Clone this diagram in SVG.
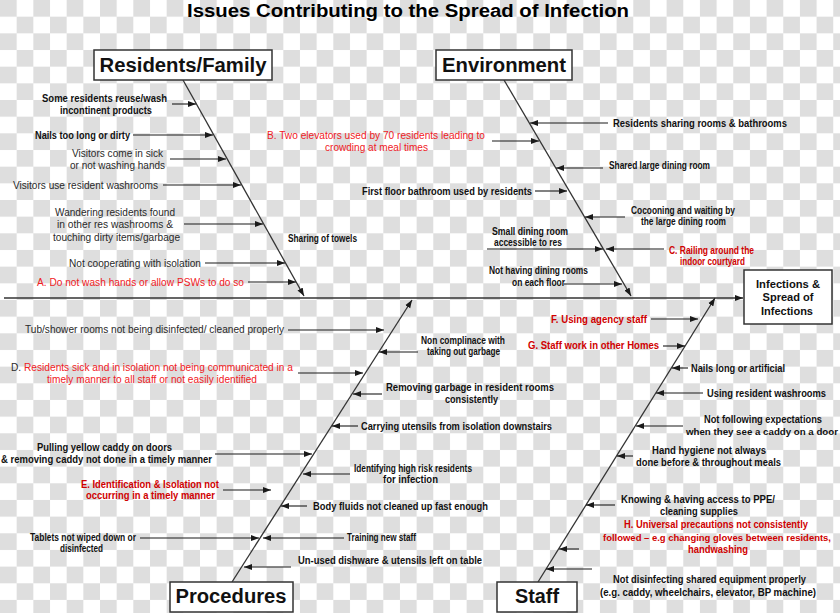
<svg xmlns="http://www.w3.org/2000/svg" width="840" height="613" viewBox="0 0 840 613">
<defs>
<pattern id="chk" patternUnits="userSpaceOnUse" width="33.33" height="33.33">
<rect width="33.33" height="33.33" fill="#ffffff"/>
<rect width="16.67" height="16.67" fill="#dedede"/>
<rect x="16.67" y="16.67" width="16.67" height="16.67" fill="#dedede"/>
</pattern>
<marker id="ah" markerUnits="userSpaceOnUse" markerWidth="9" markerHeight="7" refX="8" refY="3.5" orient="auto">
<path d="M0,0.5 L8,3.5 L0,6.5 z" fill="#1a1a1a"/>
</marker>
</defs>
<style>
.box{fill:#fff;stroke:#333;stroke-width:1.5}
.bt{font-family:"Liberation Sans",Arial,sans-serif;font-weight:bold;font-size:20px;fill:#111;text-anchor:middle}
.b{font-family:"Liberation Sans",Arial,sans-serif;font-weight:bold;font-size:11px;fill:#111}
.n{font-family:"Liberation Sans",Arial,sans-serif;font-size:10px;fill:#2a2a2a}
.s10{font-size:10px}
.s105{font-size:10.5px}
.s95{font-size:9.5px}
.r{fill:#f0201e}
.dr{fill:#d00000}
.bone{stroke:#333;stroke-width:1.3;fill:none}
.ar{stroke:#1a1a1a;stroke-width:1.1;fill:none;marker-end:url(#ah)}
</style>
<rect width="840" height="613" fill="url(#chk)"/>
<text x="187" y="16.5" font-family="'Liberation Sans',Arial,sans-serif" font-weight="bold" font-size="18" fill="#000" textLength="442" lengthAdjust="spacingAndGlyphs">Issues Contributing to the Spread of Infection</text>

<g id="connectors">
<line class="bone" x1="4" y1="298" x2="743" y2="298" marker-end="url(#ah)"/>
<line class="bone" x1="183" y1="80" x2="304" y2="296" marker-end="url(#ah)"/>
<line class="bone" x1="504" y1="80" x2="631" y2="296" marker-end="url(#ah)"/>
<line class="bone" x1="232" y1="582" x2="412" y2="300" marker-end="url(#ah)"/>
<line class="bone" x1="538" y1="582" x2="715" y2="298" marker-end="url(#ah)"/>
<line class="ar" x1="172" y1="104" x2="196" y2="104"/>
<line class="ar" x1="133" y1="135" x2="213" y2="135"/>
<line class="ar" x1="170" y1="159" x2="226" y2="159"/>
<line class="ar" x1="163" y1="185" x2="241" y2="185"/>
<line class="ar" x1="184" y1="224" x2="263" y2="224"/>
<line class="ar" x1="205" y1="263" x2="285" y2="263"/>
<line class="ar" x1="248" y1="282" x2="296" y2="282"/>
<line class="ar" x1="492" y1="141" x2="539" y2="141"/>
<line class="ar" x1="608" y1="123" x2="530" y2="123"/>
<line class="ar" x1="603" y1="168" x2="556" y2="168"/>
<line class="ar" x1="535" y1="191" x2="567" y2="191"/>
<line class="ar" x1="625" y1="217" x2="585" y2="217"/>
<line class="ar" x1="487" y1="249" x2="603" y2="249"/>
<line class="ar" x1="664" y1="249" x2="606" y2="249"/>
<line class="ar" x1="564" y1="284" x2="622" y2="284"/>
<line class="ar" x1="288" y1="330" x2="384" y2="330"/>
<line class="ar" x1="418" y1="352" x2="379" y2="352"/>
<line class="ar" x1="298" y1="373" x2="363" y2="373"/>
<line class="ar" x1="382" y1="394" x2="353" y2="394"/>
<line class="ar" x1="358" y1="426" x2="332" y2="426"/>
<line class="ar" x1="215" y1="454" x2="312" y2="454"/>
<line class="ar" x1="350" y1="474" x2="303" y2="474"/>
<line class="ar" x1="223" y1="490" x2="271" y2="490"/>
<line class="ar" x1="307" y1="506" x2="281" y2="506"/>
<line class="ar" x1="140" y1="538" x2="259" y2="538"/>
<line class="ar" x1="344" y1="538" x2="263" y2="538"/>
<line class="ar" x1="291" y1="567" x2="244" y2="567"/>
<line class="ar" x1="651" y1="319" x2="698" y2="319"/>
<line class="ar" x1="663" y1="346" x2="685" y2="346"/>
<line class="ar" x1="688" y1="368" x2="672" y2="368"/>
<line class="ar" x1="703" y1="393" x2="656" y2="393"/>
<line class="ar" x1="683" y1="426" x2="636" y2="426"/>
<line class="ar" x1="633" y1="456" x2="617" y2="456"/>
<line class="ar" x1="615" y1="505" x2="586" y2="505"/>
<line class="ar" x1="579" y1="549" x2="559" y2="549"/>
<line class="ar" x1="592" y1="569" x2="546" y2="569"/>
</g>

<g id="node-residents">
<rect class="box" x="94" y="50" width="178" height="30"/>
<text class="bt" x="183" y="72" textLength="167" lengthAdjust="spacingAndGlyphs">Residents/Family</text>
</g>
<g id="node-environment">
<rect class="box" x="436" y="50" width="136" height="30"/>
<text class="bt" x="504" y="72" textLength="124" lengthAdjust="spacingAndGlyphs">Environment</text>
</g>
<g id="node-procedures">
<rect class="box" x="170" y="582" width="123" height="30"/>
<text class="bt" x="231" y="603" textLength="111" lengthAdjust="spacingAndGlyphs">Procedures</text>
</g>
<g id="node-staff">
<rect class="box" x="497" y="582" width="80" height="30"/>
<text class="bt" x="537" y="603" textLength="44" lengthAdjust="spacingAndGlyphs">Staff</text>
</g>
<g id="node-effect">
<rect class="box" x="744" y="270" width="88" height="54"/>
<text class="b" x="788" y="288" text-anchor="middle" textLength="64" lengthAdjust="spacingAndGlyphs">Infections &amp;</text>
<text class="b" x="788" y="301" text-anchor="middle" textLength="51" lengthAdjust="spacingAndGlyphs">Spread of</text>
<text class="b" x="787" y="315" text-anchor="middle" textLength="52" lengthAdjust="spacingAndGlyphs">Infections</text>
</g>

<g id="causes-residents">
<text class="b" x="42" y="102" textLength="125" lengthAdjust="spacingAndGlyphs">Some residents reuse/wash</text>
<text class="b" x="60" y="114" textLength="92" lengthAdjust="spacingAndGlyphs">incontinent products</text>
<text class="b" x="35" y="139" textLength="95" lengthAdjust="spacingAndGlyphs">Nails too long or dirty</text>
<text class="n" x="72" y="156.5" textLength="91" lengthAdjust="spacingAndGlyphs">Visitors come in sick</text>
<text class="n" x="70" y="168.5" textLength="95" lengthAdjust="spacingAndGlyphs">or not washing hands</text>
<text class="n" x="13" y="188.5" textLength="145" lengthAdjust="spacingAndGlyphs">Visitors use resident washrooms</text>
<text class="n" x="55" y="215.5" textLength="120" lengthAdjust="spacingAndGlyphs">Wandering residents found</text>
<text class="n" x="57" y="227.5" textLength="116" lengthAdjust="spacingAndGlyphs">in other res washrooms &amp;</text>
<text class="n" x="53" y="240.5" textLength="127" lengthAdjust="spacingAndGlyphs">touching dirty items/garbage</text>
<text class="b" x="288" y="242" textLength="69" lengthAdjust="spacingAndGlyphs">Sharing of towels</text>
<text class="n" x="69" y="266.5" textLength="132" lengthAdjust="spacingAndGlyphs">Not cooperating with isolation</text>
<text class="n r" x="37" y="285.5" textLength="207" lengthAdjust="spacingAndGlyphs">A. Do not wash hands or allow PSWs to do so</text>
</g>

<g id="causes-environment">
<text class="n r" x="267" y="138.5" textLength="218" lengthAdjust="spacingAndGlyphs">B. Two elevators used by 70 residents leading to</text>
<text class="n r" x="325" y="150.5" textLength="103" lengthAdjust="spacingAndGlyphs">crowding at meal times</text>
<text class="b" x="613" y="127" textLength="174" lengthAdjust="spacingAndGlyphs">Residents sharing rooms &amp; bathrooms</text>
<text class="b" x="609" y="169" textLength="101" lengthAdjust="spacingAndGlyphs">Shared large dining room</text>
<text class="b" x="362" y="195" textLength="170" lengthAdjust="spacingAndGlyphs">First floor bathroom used by residents</text>
<text class="b" x="631" y="214" textLength="104" lengthAdjust="spacingAndGlyphs">Cocooning and waiting by</text>
<text class="b" x="641" y="225" textLength="85" lengthAdjust="spacingAndGlyphs">the large dining room</text>
<text class="b" x="492" y="235" textLength="76" lengthAdjust="spacingAndGlyphs">Small dining room</text>
<text class="b" x="494" y="246" textLength="68" lengthAdjust="spacingAndGlyphs">accessible to res</text>
<text class="b dr" x="669" y="254" textLength="85" lengthAdjust="spacingAndGlyphs">C. Railing around the</text>
<text class="b dr" x="680" y="265" textLength="65" lengthAdjust="spacingAndGlyphs">indoor courtyard</text>
<text class="b" x="489" y="274" textLength="99" lengthAdjust="spacingAndGlyphs">Not having dining rooms</text>
<text class="b" x="512" y="285.5" textLength="53" lengthAdjust="spacingAndGlyphs">on each floor</text>
</g>

<g id="causes-procedures">
<text class="n" x="25" y="332.5" textLength="259" lengthAdjust="spacingAndGlyphs">Tub/shower rooms not being disinfected/ cleaned properly</text>
<text class="b" x="421" y="344" textLength="84" lengthAdjust="spacingAndGlyphs">Non complinace with</text>
<text class="b" x="427" y="355" textLength="73" lengthAdjust="spacingAndGlyphs">taking out garbage</text>
<text class="n" x="11" y="370.5" textLength="282" lengthAdjust="spacingAndGlyphs">D. <tspan class="r">Residents sick and in isolation not being communicated in a</tspan></text>
<text class="n r" x="47" y="382.5" textLength="210" lengthAdjust="spacingAndGlyphs">timely manner to all staff or not easily identified</text>
<text class="b" x="386" y="391" textLength="168" lengthAdjust="spacingAndGlyphs">Removing garbage in resident rooms</text>
<text class="b" x="445" y="403" textLength="53" lengthAdjust="spacingAndGlyphs">consistently</text>
<text class="b" x="361" y="429.5" textLength="191" lengthAdjust="spacingAndGlyphs">Carrying utensils from isolation downstairs</text>
<text class="b" x="37" y="451" textLength="135" lengthAdjust="spacingAndGlyphs">Pulling yellow caddy on doors</text>
<text class="b" x="1" y="463" textLength="211" lengthAdjust="spacingAndGlyphs">&amp; removing caddy not done in a timely manner</text>
<text class="b" x="354" y="472" textLength="118" lengthAdjust="spacingAndGlyphs">Identifying high risk residents</text>
<text class="b" x="383" y="483" textLength="55" lengthAdjust="spacingAndGlyphs">for infection</text>
<text class="b dr" x="81" y="488" textLength="138" lengthAdjust="spacingAndGlyphs">E. Identification &amp; Isolation not</text>
<text class="b dr" x="86" y="499" textLength="129" lengthAdjust="spacingAndGlyphs">occurring in a timely manner</text>
<text class="b" x="313" y="510" textLength="175" lengthAdjust="spacingAndGlyphs">Body fluids not cleaned up fast enough</text>
<text class="b" x="30" y="541" textLength="106" lengthAdjust="spacingAndGlyphs">Tablets not wiped down or</text>
<text class="b" x="60" y="552" textLength="43" lengthAdjust="spacingAndGlyphs">disinfected</text>
<text class="b" x="347" y="541" textLength="69" lengthAdjust="spacingAndGlyphs">Training new staff</text>
<text class="b" x="298" y="564" textLength="184" lengthAdjust="spacingAndGlyphs">Un-used dishware &amp; utensils left on table</text>
</g>

<g id="causes-staff">
<text class="b dr" x="551" y="323" textLength="96" lengthAdjust="spacingAndGlyphs">F. Using agency staff</text>
<text class="b dr" x="528" y="349" textLength="131" lengthAdjust="spacingAndGlyphs">G. Staff work in other Homes</text>
<text class="b" x="691" y="372" textLength="94" lengthAdjust="spacingAndGlyphs">Nails long or artificial</text>
<text class="b s10" x="707" y="397" textLength="119" lengthAdjust="spacingAndGlyphs">Using resident washrooms</text>
<text class="b s10" x="704" y="423" textLength="118" lengthAdjust="spacingAndGlyphs">Not following expectations</text>
<text class="b s95" x="686" y="435" textLength="152" lengthAdjust="spacingAndGlyphs">when they see a caddy on a door</text>
<text class="b" x="652" y="454" textLength="114" lengthAdjust="spacingAndGlyphs">Hand hygiene not always</text>
<text class="b" x="636" y="466" textLength="145" lengthAdjust="spacingAndGlyphs">done before &amp; throughout meals</text>
<text class="b" x="621" y="503" textLength="154" lengthAdjust="spacingAndGlyphs">Knowing &amp; having access to PPE/</text>
<text class="b" x="660" y="515" textLength="78" lengthAdjust="spacingAndGlyphs">cleaning supplies</text>
<text class="b dr s105" x="624" y="528" textLength="184" lengthAdjust="spacingAndGlyphs">H. Universal precautions not consistently</text>
<text class="b dr s95" x="603" y="541" textLength="228" lengthAdjust="spacingAndGlyphs">followed – e.g changing gloves between residents,</text>
<text class="b dr" x="688" y="553" textLength="60" lengthAdjust="spacingAndGlyphs">handwashing</text>
<text class="b s105" x="613" y="583" textLength="193" lengthAdjust="spacingAndGlyphs">Not disinfecting shared equipment properly</text>
<text class="b s105" x="600" y="596" textLength="216" lengthAdjust="spacingAndGlyphs">(e.g. caddy, wheelchairs, elevator, BP machine)</text>
</g>
</svg>
